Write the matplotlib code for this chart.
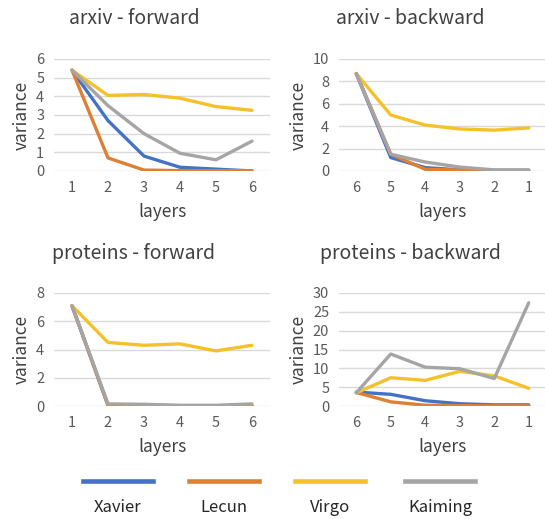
import matplotlib.pyplot as plt
from matplotlib.lines import Line2D

# data
methods = ['Xavier', 'Lecun', 'Virgo', 'Kaiming']
colors = ['#4472C4', '#DD8033', '#F5C12A', '#A5A5A5']

fwd_layers = ['1', '2', '3', '4', '5', '6']
bwd_layers = ['6', '5', '4', '3', '2', '1']

arxiv_fwd_xavier = [5.4, 2.7, 0.8, 0.2, 0.1, 0.0]
arxiv_fwd_lecun = [5.4, 0.7, 0.05, 0.02, 0.02, 0.02]
arxiv_fwd_virgo = [5.4, 4.05, 4.1, 3.9, 3.45, 3.25]
arxiv_fwd_kaiming = [5.4, 3.5, 2.0, 0.95, 0.6, 1.6]

arxiv_bwd_xavier = [8.7, 1.2, 0.3, 0.1, 0.05, 0.05]
arxiv_bwd_lecun = [8.7, 1.5, 0.15, 0.1, 0.05, 0.05]
arxiv_bwd_virgo = [8.7, 5.0, 4.1, 3.75, 3.65, 3.85]
arxiv_bwd_kaiming = [8.7, 1.5, 0.8, 0.35, 0.1, 0.1]

proteins_fwd_xavier = [7.1, 0.05, 0.05, 0.02, 0.02, 0.02]
proteins_fwd_lecun = [7.1, 0.05, 0.02, 0.02, 0.02, 0.02]
proteins_fwd_virgo = [7.1, 4.5, 4.3, 4.4, 3.9, 4.3]
proteins_fwd_kaiming = [7.1, 0.15, 0.12, 0.05, 0.05, 0.15]

proteins_bwd_xavier = [3.7, 3.1, 1.4, 0.6, 0.3, 0.3]
proteins_bwd_lecun = [3.6, 1.1, 0.2, 0.1, 0.05, 0.05]
proteins_bwd_virgo = [3.5, 7.5, 6.8, 9.2, 8.0, 4.7]
proteins_bwd_kaiming = [3.5, 13.8, 10.3, 9.9, 7.3, 27.4]

panels = [
    ('arxiv - forward', fwd_layers, [arxiv_fwd_xavier, arxiv_fwd_lecun, arxiv_fwd_virgo, arxiv_fwd_kaiming], 6, 1),
    ('arxiv - backward', bwd_layers, [arxiv_bwd_xavier, arxiv_bwd_lecun, arxiv_bwd_virgo, arxiv_bwd_kaiming], 10, 2),
    ('proteins - forward', fwd_layers, [proteins_fwd_xavier, proteins_fwd_lecun, proteins_fwd_virgo, proteins_fwd_kaiming], 8, 2),
    ('proteins - backward', bwd_layers, [proteins_bwd_xavier, proteins_bwd_lecun, proteins_bwd_virgo, proteins_bwd_kaiming], 30, 5),
]

plt.rcParams['font.family'] = ['Noto Sans CJK SC', 'DejaVu Sans']
text_color = '#404040'

fig = plt.figure(figsize=(5.45, 5.19), dpi=100)
W, H = 545, 519

# axes rectangles in pixels: left, top, right, bottom ; title centre x
boxes = [
    (54, 59, 270, 171, 134),
    (339, 59, 546, 171, 410),
    (54, 293, 270, 406, 133),
    (339, 293, 546, 406, 410),
]

for (title, labels, series, ymax, ystep), (l, t, r, b, tx) in zip(panels, boxes):
    ax = fig.add_axes([l / W, 1 - b / H, (r - l) / W, (b - t) / H])
    x = range(len(labels))
    for vals, c in zip(series, colors):
        ax.plot(x, vals, color=c, lw=2.4, solid_capstyle='round', solid_joinstyle='round')
    ax.set_xlim(-0.5, len(labels) - 0.5)
    ax.set_ylim(0, ymax)
    ax.set_yticks(range(0, ymax + 1, ystep))
    ax.set_xticks(list(x))
    ax.set_xticklabels(labels)
    ax.tick_params(length=0, labelsize=10.5, colors='#595959', pad=7)
    ax.grid(axis='y', color='#D9D9D9', lw=1)
    ax.set_axisbelow(True)
    for s in ax.spines.values():
        s.set_visible(False)
    ax.set_xlabel('layers', fontsize=12.5, color=text_color, labelpad=6)
    ax.set_ylabel('variance', fontsize=12.5, color=text_color, labelpad=4)
    fig.text(tx / W, 1 - (t - 40) / H, title, fontsize=14, color=text_color,
             ha='center', va='center')

# legend with the text under each line
leg_x = [118, 224, 330, 440]
for name, c, cx in zip(methods, colors, leg_x):
    fig.add_artist(Line2D([(cx - 35) / W, (cx + 35) / W], [1 - 481 / H, 1 - 481 / H],
                          color=c, lw=3.3, transform=fig.transFigure))
    fig.text(cx / W, 1 - 508 / H, name, fontsize=12, color='#262626', ha='center', va='center')

fig.savefig('out.png', dpi=100)
